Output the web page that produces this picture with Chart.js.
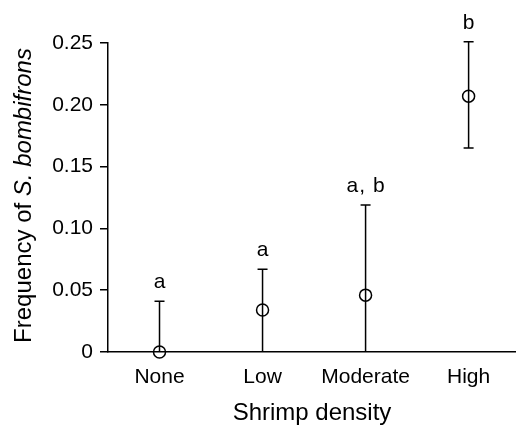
<!DOCTYPE html>
<html>
<head>
<meta charset="utf-8">
<script src="https://cdn.jsdelivr.net/npm/chart.js@4/dist/chart.umd.min.js"></script>
<style>
  html, body { margin: 0; padding: 0; background: #fff; }
  canvas { display: block; }
</style>
</head>
<body>
<canvas id="chart" width="516" height="425"></canvas>
<script>
// ----- Data -----
const categories = ["None", "Low", "Moderate", "High"];
const means = [0, 0.034, 0.046, 0.207];
const upper = [0.041, 0.067, 0.119, 0.251];
const lower = [0, 0, 0, 0.165];
const letters = ["a", "a", "a, b", "b"];
const yTicks = [0, 0.05, 0.10, 0.15, 0.20, 0.25];

const FONT = '"Liberation Sans", Arial, Helvetica, sans-serif';

// error bars + significance letters
const errorBars = {
  id: "errorBars",
  afterDatasetsDraw(chart) {
    const { ctx, scales: { x, y } } = chart;
    ctx.save();
    ctx.strokeStyle = "#000";
    ctx.lineWidth = 1.5;
    ctx.fillStyle = "#000";
    ctx.font = "21px " + FONT;
    ctx.textAlign = "center";
    ctx.textBaseline = "alphabetic";
    ctx.letterSpacing = "1px";
    categories.forEach((c, i) => {
      const px = x.getPixelForValue(i);
      const top = y.getPixelForValue(upper[i]);
      const bot = y.getPixelForValue(lower[i]);
      ctx.beginPath();
      ctx.moveTo(px, top);
      ctx.lineTo(px, bot);
      ctx.moveTo(px - 5, top);
      ctx.lineTo(px + 5, top);
      if (lower[i] > 0) {
        ctx.moveTo(px - 5, bot);
        ctx.lineTo(px + 5, bot);
      }
      ctx.stroke();
      ctx.fillText(letters[i], px + 0.5, top - 13);
    });
    ctx.restore();
  }
};

// axis titles (y title has italic species name)
const axisTitles = {
  id: "axisTitles",
  afterDraw(chart) {
    const { ctx, chartArea } = chart;
    ctx.save();
    ctx.fillStyle = "#000";
    ctx.textBaseline = "alphabetic";
    // x title
    ctx.font = "24px " + FONT;
    ctx.textAlign = "center";
    ctx.fillText("Shrimp density", (chartArea.left + chartArea.right) / 2, 420);
    // y title
    const part1 = "Frequency of ";
    const part2 = "S. bombifrons";
    const f1 = "24px " + FONT;
    const f2 = "italic 24px " + FONT;
    ctx.font = f1;
    const w1 = ctx.measureText(part1).width;
    ctx.font = f2;
    const w2 = ctx.measureText(part2).width;
    const cy = (chartArea.top + chartArea.bottom) / 2 - 2;
    ctx.translate(31, cy);
    ctx.rotate(-Math.PI / 2);
    ctx.textAlign = "left";
    const start = -(w1 + w2) / 2;
    ctx.font = f1;
    ctx.fillText(part1, start, 0);
    ctx.font = f2;
    ctx.fillText(part2, start + w1, 0);
    ctx.restore();
  }
};

const ctx = document.getElementById("chart").getContext("2d");
new Chart(ctx, {
  type: "scatter",
  data: {
    datasets: [{
      data: means.map((m, i) => ({ x: i, y: m })),
      pointStyle: "circle",
      pointRadius: 6,
      pointHoverRadius: 6,
      borderColor: "#000",
      borderWidth: 1.5,
      backgroundColor: "rgba(0,0,0,0)",
      clip: false
    }]
  },
  options: {
    responsive: false,
    devicePixelRatio: 1,
    animation: false,
    layout: { autoPadding: false, padding: { top: 43, left: 0, right: 0, bottom: 0 } },
    plugins: {
      legend: { display: false },
      tooltip: { enabled: false }
    },
    scales: {
      x: {
        type: "linear",
        min: -0.5,
        max: 3.46,
        afterBuildTicks: s => { s.ticks = categories.map((c, i) => ({ value: i })); },
        afterFit: s => { s.height = 73; s.paddingLeft = 0; s.paddingRight = 0; },
        grid: { display: false, drawTicks: false },
        border: { display: true, color: "#000", width: 1.5 },
        ticks: {
          padding: 13,
          color: "#000",
          font: { family: FONT, size: 21 },
          maxRotation: 0,
          callback: v => categories[v] ?? ""
        }
      },
      y: {
        min: 0,
        max: 0.25,
        afterBuildTicks: s => { s.ticks = yTicks.map(v => ({ value: v })); },
        afterFit: s => { s.width = 108; s.paddingTop = 0; s.paddingBottom = 0; },
        grid: {
          display: true,
          drawOnChartArea: false,
          drawTicks: true,
          tickLength: 8,
          color: "#000",
          lineWidth: 1.5
        },
        border: { display: true, color: "#000", width: 1.5 },
        ticks: {
          padding: 7,
          color: "#000",
          font: { family: FONT, size: 21 },
          callback: v => v === 0 ? "0" : v.toFixed(2)
        }
      }
    }
  },
  plugins: [errorBars, axisTitles]
});
</script>
</body>
</html>
